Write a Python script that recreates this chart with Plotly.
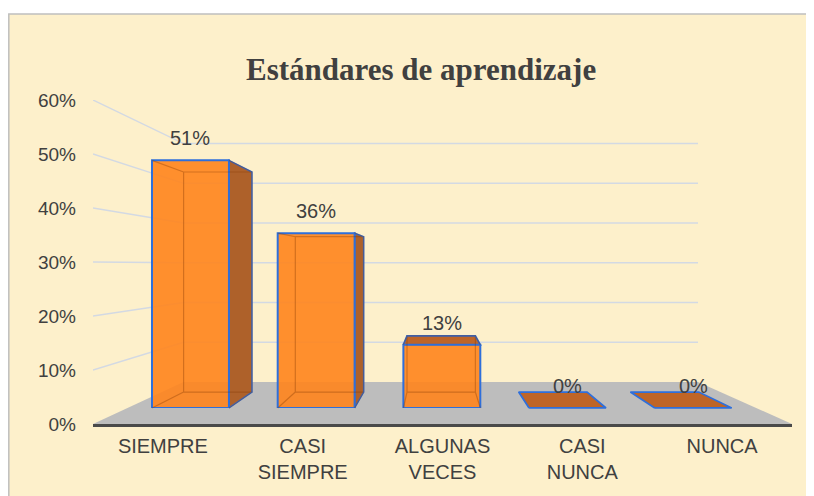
import plotly.graph_objects as go

# ---------------- data ----------------
categories = ["SIEMPRE", "CASI<br>SIEMPRE", "ALGUNAS<br>VECES", "CASI<br>NUNCA", "NUNCA"]
values = [0.51, 0.36, 0.13, 0.0, 0.0]
y_ticks = [0, 0.1, 0.2, 0.3, 0.4, 0.5, 0.6]
title_text = "Estándares de aprendizaje"

# ---------------- geometry / style ----------------
# the page body adds an 8px margin, so the figure is placed at (8, 8) in the window
OFF = 8
W, H = 814 - OFF, 496 - OFF
AX_L, AX_R, AX_B, AX_T = 93 - OFF, 792 - OFF, 424 - OFF, 100 - OFF   # front (axis) plane in px
VP_X, VP_Y = 436 - OFF, 265 - OFF                                    # vanishing point in px
S_BAR_FRONT, S_BAR_BACK, S_WALL = 0.899, 0.799, 0.736
BAR_W = 0.612
YMAX = 0.6
X_RANGE = [-0.5, 4.5]

CREAM = "#FDF0CB"
TXT = "#404040"
BLUE = "#2E6FDB"
FRONT = "rgba(255,132,28,0.90)"
SIDE = "#AE612A"
TOP = "#BF6527"
GRID = "#D3D9E3"
FLOOR = "#BDBDBD"


def plane_domain(s):
    l = VP_X + s * (AX_L - VP_X)
    r = VP_X + s * (AX_R - VP_X)
    b = VP_Y + s * (AX_B - VP_Y)
    t = VP_Y + s * (AX_T - VP_Y)
    return [l / W, r / W], [1 - b / H, 1 - t / H]


# vanishing point expressed in front-plane data units
VU = X_RANGE[0] + (VP_X - AX_L) / (AX_R - AX_L) * (X_RANGE[1] - X_RANGE[0])
VV = (AX_B - VP_Y) / (AX_B - AX_T) * YMAX


def P(u, v, s):
    return VU + s * (u - VU), VV + s * (v - VV)


def poly_trace(poly, fill, line_color, line_width):
    return go.Scatter(x=[p[0] for p in poly] + [poly[0][0]], y=[p[1] for p in poly] + [poly[0][1]],
                      fill="toself", fillcolor=fill, mode="lines",
                      line=dict(color=line_color, width=line_width),
                      hoverinfo="skip", showlegend=False, xaxis="x", yaxis="y")


fig = go.Figure()

# gridlines: side wall diagonals + back wall horizontals
gx, gy = [], []
for t in y_ticks[1:]:
    for pt in (P(X_RANGE[0], t, 1.0), P(X_RANGE[0], t, S_WALL), P(X_RANGE[1], t, S_WALL)):
        gx.append(pt[0]); gy.append(pt[1])
    gx.append(None); gy.append(None)
fig.add_trace(go.Scatter(x=gx, y=gy, mode="lines", line=dict(color=GRID, width=1.4),
                         hoverinfo="skip", showlegend=False, xaxis="x", yaxis="y"))

# floor
fl = [P(X_RANGE[0], 0, 1.0), P(X_RANGE[1], 0, 1.0), P(X_RANGE[1], 0, S_WALL), P(X_RANGE[0], 0, S_WALL)]
fig.add_trace(poly_trace(fl, FLOOR, FLOOR, 0))

shapes = []
# cream chart area (filled to the page edges) and its top/left border
shapes.append(dict(type="rect", xref="paper", yref="paper", x0=0, x1=1.0, y0=0, y1=1 - (14 - OFF) / H,
                   fillcolor=CREAM, line=dict(width=0), layer="below"))
shapes.append(dict(type="path", xref="paper", yref="paper", layer="below",
                   path="M 0.001 0 L 0.001 {0} L 1 {0}".format(1 - (14 - OFF) / H),
                   line=dict(color="#BFBFBF", width=1.5)))

for i, v in enumerate(values):
    xl, xr = i - BAR_W / 2, i + BAR_W / 2
    if v > 0 and xr < VU:   # right side face visible
        fig.add_trace(poly_trace([P(xr, 0, S_BAR_FRONT), P(xr, v, S_BAR_FRONT),
                                  P(xr, v, S_BAR_BACK), P(xr, 0, S_BAR_BACK)], SIDE, BLUE, 1.5))
    if v > 0 and xl > VU:   # left side face visible
        fig.add_trace(poly_trace([P(xl, 0, S_BAR_FRONT), P(xl, v, S_BAR_FRONT),
                                  P(xl, v, S_BAR_BACK), P(xl, 0, S_BAR_BACK)], SIDE, BLUE, 1.5))
    if v < VV:              # top face visible
        fig.add_trace(poly_trace([P(xl, v, S_BAR_FRONT), P(xr, v, S_BAR_FRONT),
                                  P(xr, v, S_BAR_BACK), P(xl, v, S_BAR_BACK)], TOP, BLUE, 1.8))
    if v > 0:               # hidden edges seen through the translucent front
        b = [P(xl, 0, S_BAR_BACK), P(xr, 0, S_BAR_BACK), P(xr, v, S_BAR_BACK), P(xl, v, S_BAR_BACK)]
        f = [P(xl, 0, S_BAR_FRONT), P(xr, 0, S_BAR_FRONT), P(xr, v, S_BAR_FRONT), P(xl, v, S_BAR_FRONT)]
        path = "M {} {} L {} {} L {} {} L {} {} Z".format(*[c for p in b for c in p])
        for k in range(4):
            path += " M {} {} L {} {}".format(f[k][0], f[k][1], b[k][0], b[k][1])
        shapes.append(dict(type="path", xref="x", yref="y", path=path,
                           line=dict(color="rgba(130,55,0,0.35)", width=1.2), layer="above"))

# front faces of the bars (bar-front plane)
fig.add_trace(go.Bar(x=list(range(len(values))), y=values, width=BAR_W,
                     marker=dict(color=FRONT, line=dict(color=BLUE, width=2)),
                     hoverinfo="skip", showlegend=False, xaxis="x2", yaxis="y2"))

annotations = []
for i, v in enumerate(values):
    annotations.append(dict(x=i, y=v, xref="x2", yref="y2", text=f"{round(v * 100)}%", showarrow=False,
                            yanchor="middle", yshift=22,
                            font=dict(size=20, color=TXT, family="Liberation Sans, Arial")))
annotations.append(dict(x=(421 - OFF) / W, y=1 - (70 - OFF) / H, xref="paper", yref="paper", text=title_text,
                        showarrow=False, xanchor="center", yanchor="middle",
                        font=dict(size=31, color=TXT, family="Liberation Serif, Times New Roman",
                                  weight="bold")))

xd1, yd1 = plane_domain(1.0)
xd2, yd2 = plane_domain(S_BAR_FRONT)

fig.update_layout(
    width=W, height=H,
    margin=dict(l=0, r=0, t=0, b=0),
    paper_bgcolor="white", plot_bgcolor="rgba(0,0,0,0)",
    font=dict(family="Liberation Sans, Arial", color=TXT),
    showlegend=False,
    shapes=shapes, annotations=annotations,
    xaxis=dict(domain=xd1, range=X_RANGE, tickvals=list(range(len(categories))), ticktext=categories,
               showgrid=False, zeroline=False, showline=True, linecolor="#4A4A4A", linewidth=3,
               ticks="", tickfont=dict(size=20, color=TXT), anchor="y", automargin=False,
               ticklabelstandoff=2, fixedrange=True),
    yaxis=dict(domain=yd1, range=[0, YMAX], tickvals=y_ticks, tickformat=".0%",
               showgrid=False, zeroline=False, showline=False, ticks="",
               tickfont=dict(size=19, color=TXT), anchor="x", automargin=False,
               ticklabelstandoff=16, fixedrange=True),
    xaxis2=dict(domain=xd2, range=X_RANGE, visible=False, anchor="y2", fixedrange=True),
    yaxis2=dict(domain=yd2, range=[0, YMAX], visible=False, anchor="x2", fixedrange=True),
)

fig.write_html("out.html")
